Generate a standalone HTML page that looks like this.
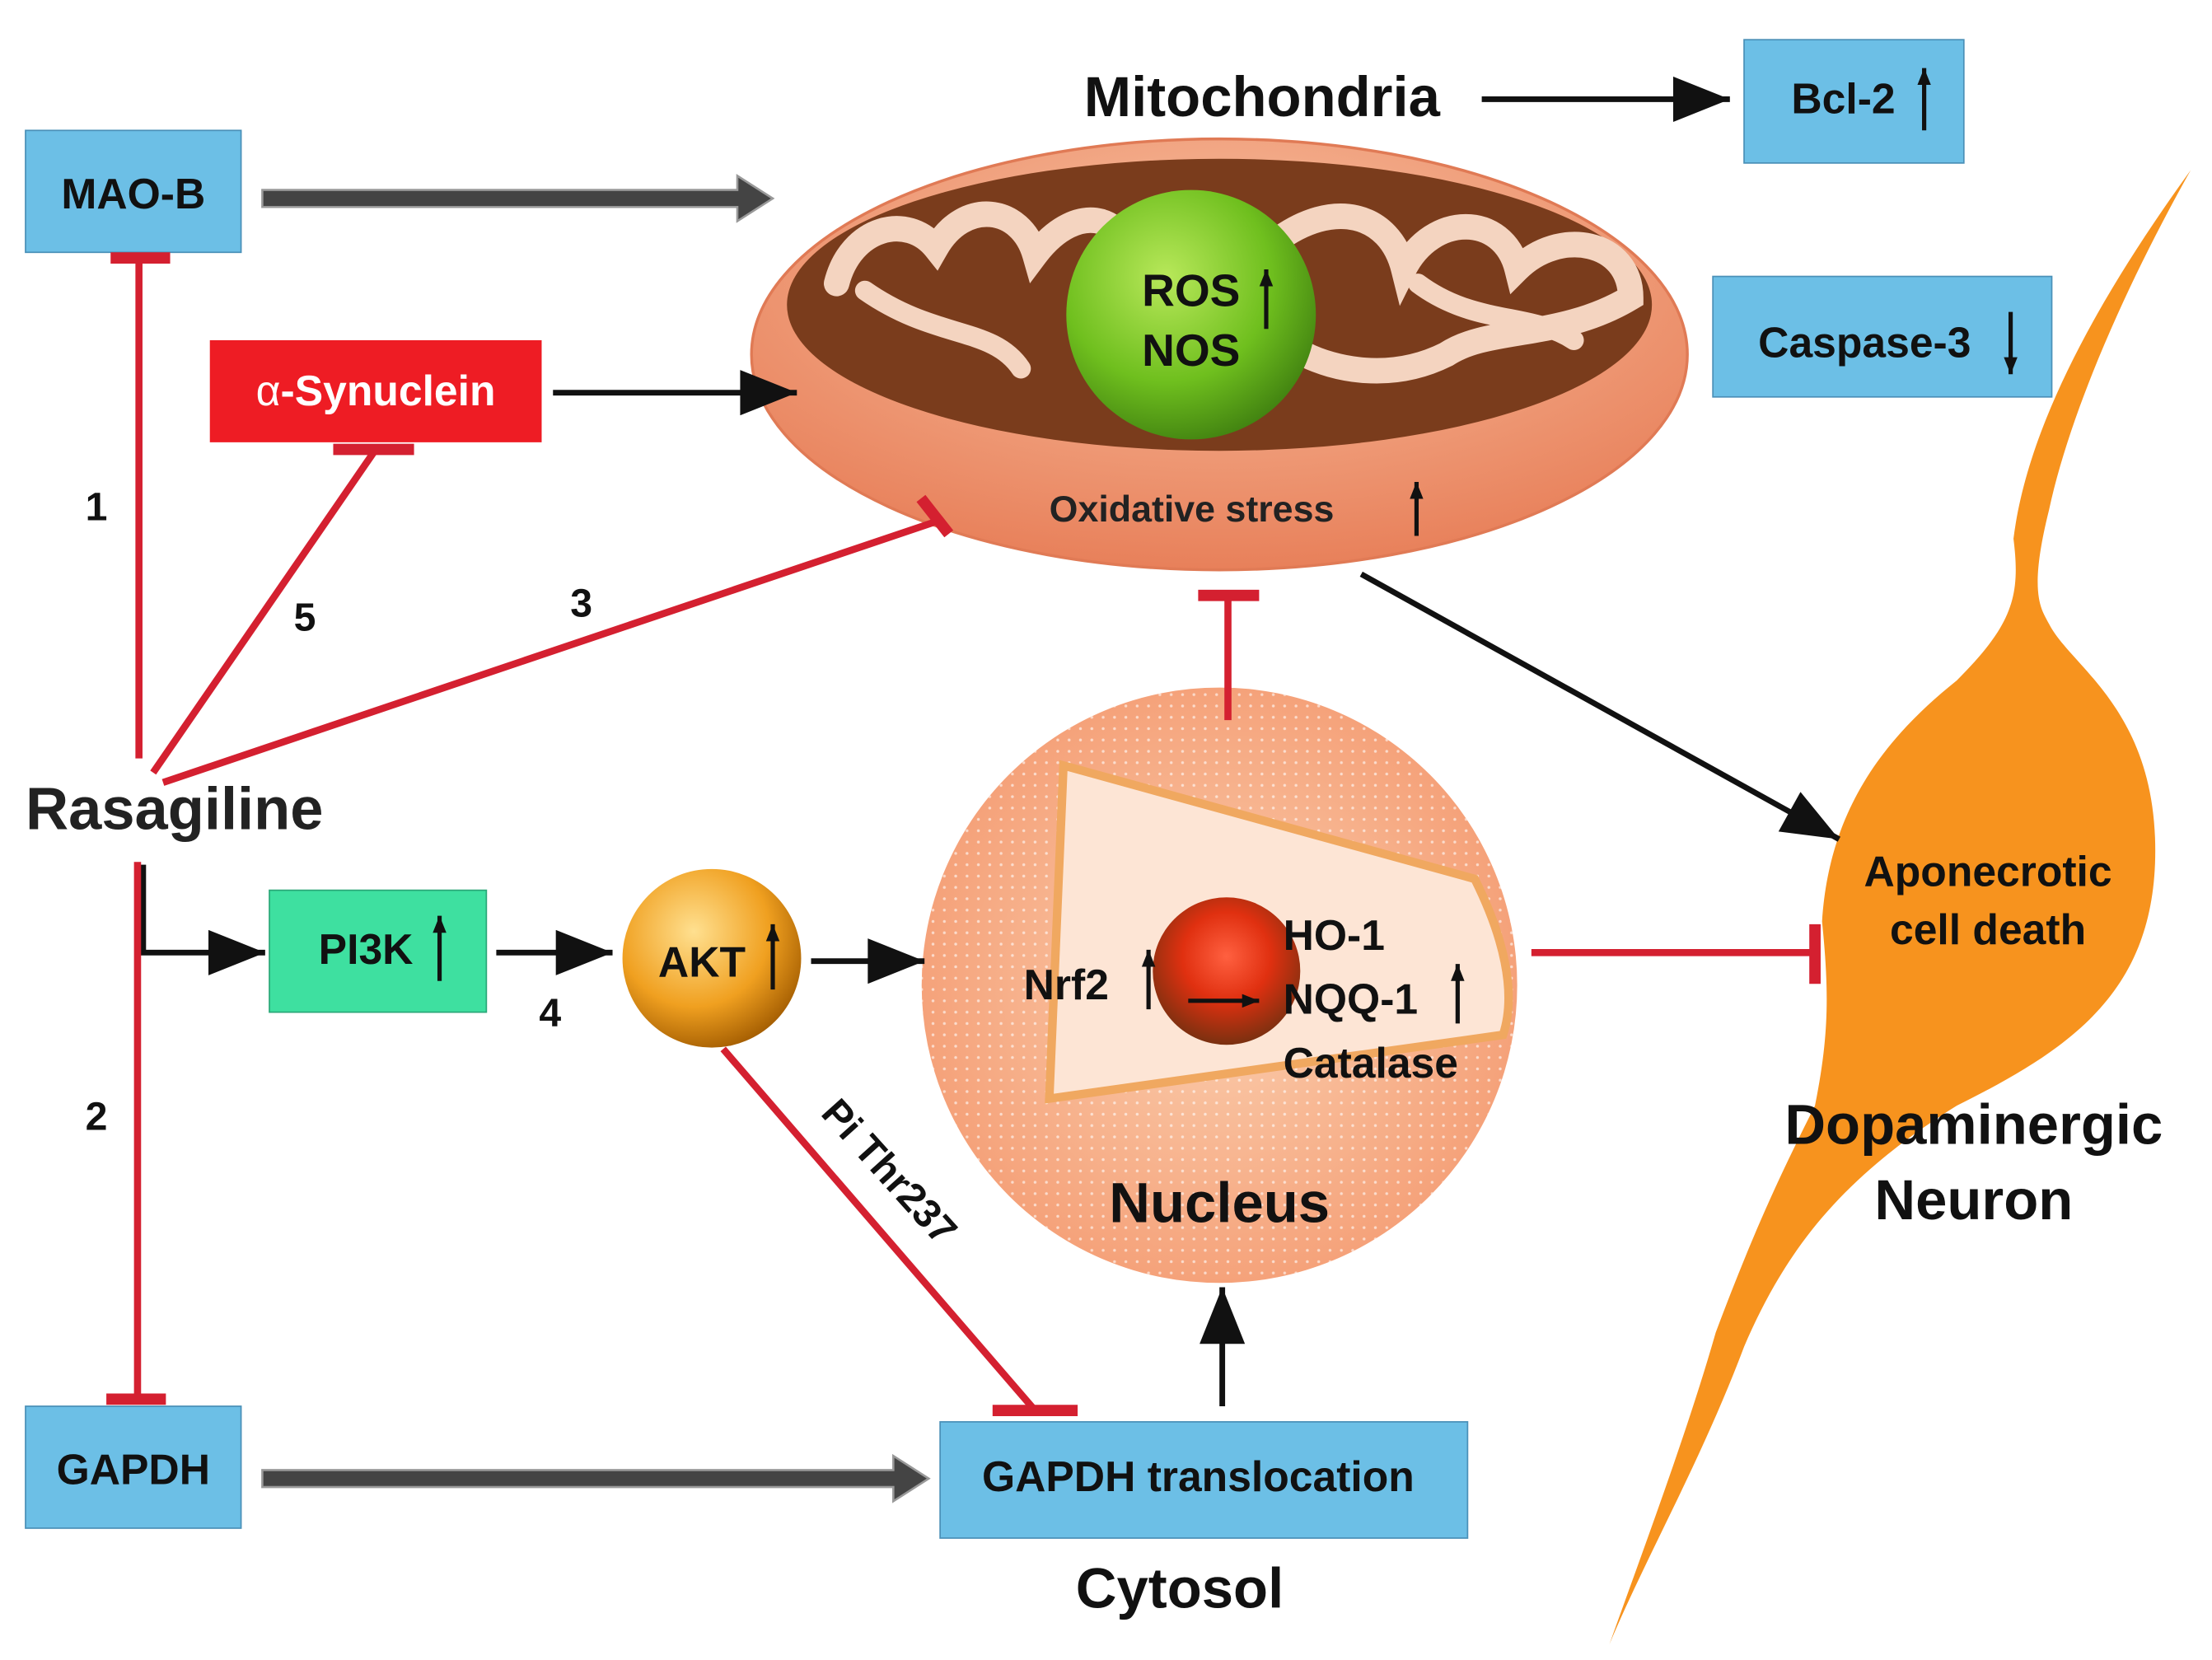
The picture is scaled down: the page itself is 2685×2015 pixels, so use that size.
<!DOCTYPE html>
<html><head><meta charset="utf-8"><style>
html,body{margin:0;padding:0;background:#fff;}
svg{display:block;}
text{font-family:"Liberation Sans",Arial,sans-serif;font-weight:bold;}
</style></head><body>
<svg width="2685" height="2015" viewBox="0 0 1560 1171" preserveAspectRatio="none" xmlns="http://www.w3.org/2000/svg">
<defs>
<marker id="ah" markerWidth="50" markerHeight="32" refX="10" refY="4" orient="auto" markerUnits="userSpaceOnUse" viewBox="0 0 10 8"><path d="M0,0 L10,4 L0,8 z" fill="#111"/></marker>
<marker id="ahs" markerWidth="12" markerHeight="16" refX="10" refY="4" orient="auto" markerUnits="userSpaceOnUse" viewBox="0 0 10 8"><path d="M0,0 L10,4 L0,8 z" fill="#111"/></marker>
<radialGradient id="gGreen" cx="0.4" cy="0.35" r="0.7"><stop offset="0" stop-color="#b8e85a"/><stop offset="0.6" stop-color="#6fbf1e"/><stop offset="1" stop-color="#3f7f10"/></radialGradient>
<radialGradient id="gAkt" cx="0.4" cy="0.35" r="0.7"><stop offset="0" stop-color="#ffe090"/><stop offset="0.6" stop-color="#f0a020"/><stop offset="1" stop-color="#a05a00"/></radialGradient>
<radialGradient id="gNuc" cx="0.5" cy="0.4" r="0.6"><stop offset="0" stop-color="#ff6040"/><stop offset="0.5" stop-color="#e03010"/><stop offset="1" stop-color="#7a3010"/></radialGradient>
<radialGradient id="gMito" cx="0.5" cy="0.3" r="0.7"><stop offset="0" stop-color="#f8c0a0"/><stop offset="1" stop-color="#e8805a"/></radialGradient>
<radialGradient id="gNucleus" cx="0.5" cy="0.5" r="0.5"><stop offset="0" stop-color="#fbd0b0"/><stop offset="1" stop-color="#f5a27a"/></radialGradient>
<pattern id="dots" width="8" height="8" patternUnits="userSpaceOnUse"><circle cx="2" cy="2" r="1" fill="#fff" opacity="0.6"/></pattern>
</defs>

<path d="M1545,120 C1500,200 1460,290 1445,360 C1430,420 1440,430 1445,440 C1460,470 1520,500 1520,600 C1520,700 1460,740 1380,780 C1300,830 1260,880 1230,950 C1200,1030 1160,1100 1135,1160 C1160,1090 1190,1010 1210,940 C1240,860 1260,820 1280,780 C1290,730 1290,700 1285,650 C1290,570 1330,520 1380,480 C1420,440 1425,420 1420,380 C1430,300 1480,210 1545,120 Z" fill="#f7931e"/>

<ellipse cx="860" cy="250" rx="330" ry="152" fill="url(#gMito)" stroke="#e07a55" stroke-width="2"/>
<ellipse cx="860" cy="215" rx="305" ry="103" fill="#7a3c1c"/>
<path d="M590,200 C600,160 640,150 660,175 C680,140 720,145 730,180 C760,140 800,150 800,200 M900,170 C940,140 980,150 990,190 C1010,150 1060,150 1070,190 C1100,160 1150,170 1150,210 C1100,240 1050,230 1020,250 C980,270 940,260 920,250" fill="none" stroke="#f4d4c0" stroke-width="18" stroke-linecap="round"/>
<path d="M610,205 C660,240 700,230 720,260 M1000,200 C1040,230 1080,220 1110,240" fill="none" stroke="#f4d4c0" stroke-width="14" stroke-linecap="round"/>
<circle cx="840" cy="222" r="88" fill="url(#gGreen)"/>
<text x="840" y="216" font-size="32" text-anchor="middle" fill="#111">ROS</text>
<text x="840" y="258" font-size="32" text-anchor="middle" fill="#111">NOS</text>
<line x1="893" y1="232" x2="893" y2="190" stroke="#111" stroke-width="3" marker-end="url(#ahs)"/>
<text x="740" y="368" font-size="26" fill="#222">Oxidative stress</text>
<line x1="999" y1="378" x2="999" y2="340" stroke="#111" stroke-width="3" marker-end="url(#ahs)"/>

<circle cx="860" cy="695" r="210" fill="url(#gNucleus)"/>
<circle cx="860" cy="695" r="210" fill="url(#dots)"/>
<path d="M750,540 L1040,620 C1060,660 1070,700 1060,730 L740,775 Z" fill="#fde5d5" stroke="#f0a860" stroke-width="6"/>
<circle cx="865" cy="685" r="52" fill="url(#gNuc)"/>
<text x="860" y="862" font-size="40" text-anchor="middle" fill="#111">Nucleus</text>
<text x="722" y="705" font-size="30" fill="#111">Nrf2</text>
<line x1="810" y1="712" x2="810" y2="670" stroke="#111" stroke-width="3" marker-end="url(#ahs)"/>
<line x1="838" y1="706" x2="888" y2="706" stroke="#111" stroke-width="3" marker-end="url(#ahs)"/>
<text x="905" y="670" font-size="30" fill="#111">HO-1</text>
<text x="905" y="715" font-size="30" fill="#111">NQQ-1</text>
<line x1="1028" y1="722" x2="1028" y2="680" stroke="#111" stroke-width="3" marker-end="url(#ahs)"/>
<text x="905" y="760" font-size="30" fill="#111">Catalase</text>

<rect x="18" y="92" width="152" height="86" fill="#6cbfe6" stroke="#4a90b8"/>
<text x="94" y="147" font-size="30" text-anchor="middle" fill="#111">MAO-B</text>
<rect x="1230" y="28" width="155" height="87" fill="#6cbfe6" stroke="#4a90b8"/>
<text x="1300" y="80" font-size="30" text-anchor="middle" fill="#111">Bcl-2</text>
<line x1="1357" y1="92" x2="1357" y2="48" stroke="#111" stroke-width="3" marker-end="url(#ahs)"/>
<rect x="1208" y="195" width="239" height="85" fill="#6cbfe6" stroke="#4a90b8"/>
<text x="1315" y="252" font-size="30" text-anchor="middle" fill="#111">Caspase-3</text>
<line x1="1418" y1="220" x2="1418" y2="264" stroke="#111" stroke-width="3" marker-end="url(#ahs)"/>
<rect x="148" y="240" width="234" height="72" fill="#ee1c24"/>
<text x="265" y="286" font-size="30" text-anchor="middle" fill="#fff"><tspan font-weight="normal">α</tspan>-Synuclein</text>
<rect x="190" y="628" width="153" height="86" fill="#3ee0a0" stroke="#2aa878"/>
<text x="258" y="680" font-size="30" text-anchor="middle" fill="#111">PI3K</text>
<line x1="310" y1="692" x2="310" y2="646" stroke="#111" stroke-width="3" marker-end="url(#ahs)"/>
<rect x="18" y="992" width="152" height="86" fill="#6cbfe6" stroke="#4a90b8"/>
<text x="94" y="1047" font-size="30" text-anchor="middle" fill="#111">GAPDH</text>
<rect x="663" y="1003" width="372" height="82" fill="#6cbfe6" stroke="#4a90b8"/>
<text x="845" y="1052" font-size="30" text-anchor="middle" fill="#111">GAPDH translocation</text>

<circle cx="502" cy="676" r="63" fill="url(#gAkt)"/>
<text x="495" y="689" font-size="30" text-anchor="middle" fill="#111">AKT</text>
<line x1="545" y1="698" x2="545" y2="652" stroke="#111" stroke-width="3" marker-end="url(#ahs)"/>

<text x="890" y="82" font-size="40" text-anchor="middle" fill="#111">Mitochondria</text>
<text x="18" y="585" font-size="42" fill="#222">Rasagiline</text>
<text x="1402" y="625" font-size="30" text-anchor="middle" fill="#111">Aponecrotic</text>
<text x="1402" y="666" font-size="30" text-anchor="middle" fill="#111">cell death</text>
<text x="1392" y="807" font-size="40" text-anchor="middle" fill="#111">Dopaminergic</text>
<text x="1392" y="860" font-size="40" text-anchor="middle" fill="#111">Neuron</text>
<text x="832" y="1134" font-size="40" text-anchor="middle" fill="#111">Cytosol</text>
<text x="68" y="367" font-size="28" text-anchor="middle" fill="#111">1</text>
<text x="68" y="797" font-size="28" text-anchor="middle" fill="#111">2</text>
<text x="410" y="435" font-size="28" text-anchor="middle" fill="#111">3</text>
<text x="388" y="724" font-size="28" text-anchor="middle" fill="#111">4</text>
<text x="215" y="445" font-size="28" text-anchor="middle" fill="#111">5</text>
<text transform="translate(578,786) rotate(48)" font-size="28" fill="#111">Pi Thr237</text>

<line x1="1045" y1="70" x2="1220" y2="70" stroke="#111" stroke-width="4" marker-end="url(#ah)" />
<line x1="390" y1="277" x2="562" y2="277" stroke="#111" stroke-width="4" marker-end="url(#ah)"/>
<path d="M101,610 L101,672 L187,672" fill="none" stroke="#111" stroke-width="4" marker-end="url(#ah)"/>
<line x1="350" y1="672" x2="432" y2="672" stroke="#111" stroke-width="4" marker-end="url(#ah)"/>
<line x1="572" y1="678" x2="652" y2="678" stroke="#111" stroke-width="4" marker-end="url(#ah)"/>
<line x1="960" y1="405" x2="1297" y2="592" stroke="#111" stroke-width="4" marker-end="url(#ah)"/>
<line x1="862" y1="992" x2="862" y2="908" stroke="#111" stroke-width="4" marker-end="url(#ah)"/>
<path d="M185,134 L520,134 L520,124 L545,140 L520,156 L520,146 L185,146 Z" fill="#444" stroke="#999" stroke-width="1.5"/>
<path d="M185,1037 L630,1037 L630,1027 L655,1043 L630,1059 L630,1049 L185,1049 Z" fill="#444" stroke="#999" stroke-width="1.5"/>

<g stroke="#d42030" stroke-width="5" fill="none">
<line x1="98" y1="535" x2="98" y2="182"/><line x1="78" y1="182" x2="120" y2="182" stroke-width="8"/>
<line x1="108" y1="545" x2="265" y2="317"/><line x1="235" y1="317" x2="292" y2="317" stroke-width="8"/>
<line x1="115" y1="552" x2="660" y2="368"/><line x1="652" y1="350" x2="667" y2="378" stroke-width="8" transform="rotate(-10 660 365)"/>
<line x1="97" y1="608" x2="97" y2="987"/><line x1="75" y1="987" x2="117" y2="987" stroke-width="8"/>
<line x1="866" y1="508" x2="866" y2="420"/><line x1="845" y1="420" x2="888" y2="420" stroke-width="8"/>
<line x1="1080" y1="672" x2="1280" y2="672"/><line x1="1280" y1="652" x2="1280" y2="694" stroke-width="8"/>
<line x1="510" y1="740" x2="730" y2="995"/><line x1="700" y1="995" x2="760" y2="995" stroke-width="8"/>
</g>
</svg>
</body></html>
